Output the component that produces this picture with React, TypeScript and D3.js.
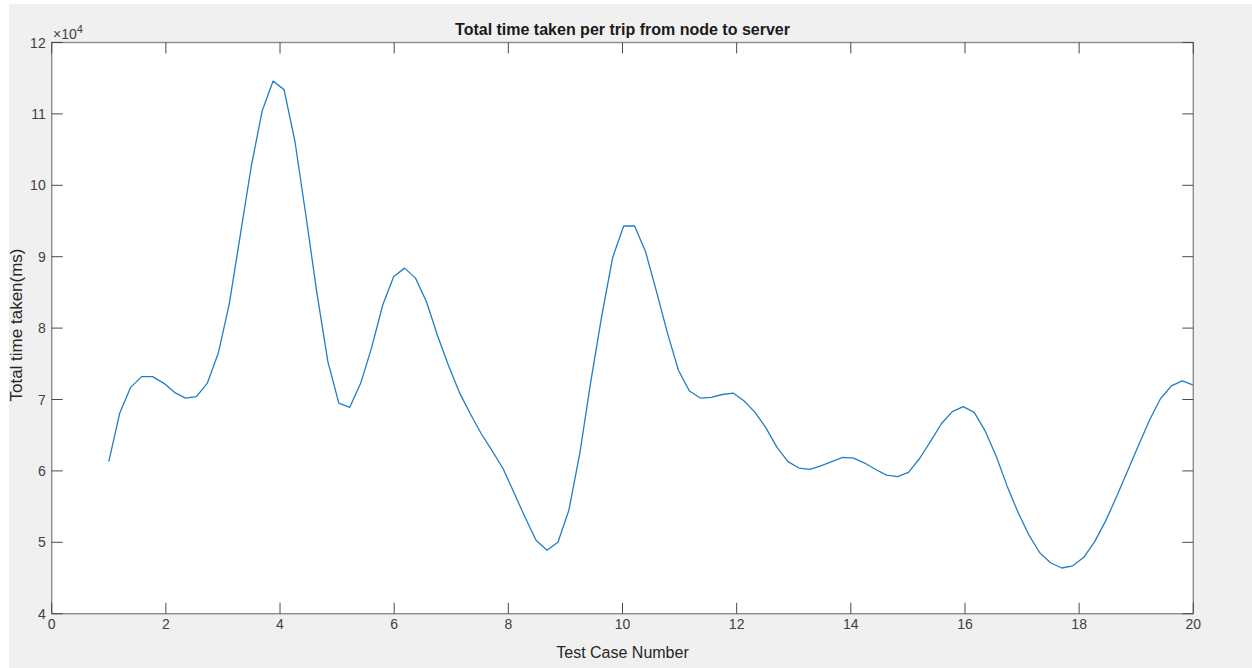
import React from "react";
import * as d3 from "d3";

// Total time per trip (ms), sampled on 100 evenly spaced test-case positions from 1 to 20
const tripTimes: number[] = [
  61300, 68100, 71700, 73200, 73200, 72300, 71000, 70200, 70400, 72300,
  76500, 83400, 93000, 102600, 110400, 114600, 113400, 106100, 95700, 84900,
  75300, 69500, 68900, 72300, 77300, 83200, 87200, 88400, 87000, 83700,
  79000, 74800, 71000, 68000, 65200, 62800, 60300, 56900, 53500, 50300,
  48900, 50000, 54500, 62500, 72500, 81700, 89900, 94300, 94300, 90700,
  85100, 79300, 74100, 71200, 70200, 70300, 70700, 70900, 69800, 68200,
  66000, 63300, 61300, 60400, 60200, 60700, 61300, 61900, 61800, 61100,
  60200, 59400, 59200, 59800, 61700, 64100, 66600, 68300, 69000, 68200,
  65600, 62100, 57900, 54200, 51000, 48500, 47100, 46400, 46700, 47900,
  50100, 53000, 56400, 60000, 63600, 67100, 70100, 71900, 72600, 72000,
];
const caseStart = 1;
const caseEnd = 20;

const xTicks: number[] = [0, 2, 4, 6, 8, 10, 12, 14, 16, 18, 20];
const yTicks: number[] = [40000, 50000, 60000, 70000, 80000, 90000, 100000, 110000, 120000];
const yExponent = 4;

const titleText = "Total time taken per trip from node to server";
const xLabelText = "Test Case Number";
const yLabelText = "Total time taken(ms)";

const W = 1252;
const H = 668;
const left = 51.7;
const right = 1193.3;
const top = 42.5;
const bottom = 613.7;
const tickLen = 11;
const font = "'Liberation Sans', Arial, Helvetica, sans-serif";

export default function App() {
  const x = d3.scaleLinear().domain([0, 20]).range([left, right]);
  const y = d3.scaleLinear().domain([40000, 120000]).range([bottom, top]);

  const n = tripTimes.length;
  const points: [number, number][] = tripTimes.map((v, i) => [
    caseStart + (i * (caseEnd - caseStart)) / (n - 1),
    v,
  ]);
  const line = d3
    .line<[number, number]>()
    .x((d) => x(d[0]))
    .y((d) => y(d[1]));

  const scale = Math.pow(10, yExponent);

  return (
    <svg
      width={W}
      height={H}
      style={{ position: "absolute", left: 0, top: 0, display: "block" }}
    >
      <rect x={0} y={0} width={W} height={H} fill="#ffffff" />
      <rect x={9} y={4} width={W - 9} height={H - 4} fill="#f0f0f0" />
      <rect x={left} y={top} width={right - left} height={bottom - top} fill="#ffffff" />

      {/* plotted series */}
      <path d={line(points) ?? ""} fill="none" stroke="#1f7fc4" strokeWidth={1.3} strokeLinejoin="round" />

      {/* box */}
      <rect
        x={left}
        y={top}
        width={right - left}
        height={bottom - top}
        fill="none"
        stroke="#8c8c8c"
        strokeWidth={1.4}
      />

      {/* x ticks, bottom and top */}
      {xTicks.map((t) => (
        <g key={"x" + t}>
          <line x1={x(t)} x2={x(t)} y1={bottom} y2={bottom - tickLen} stroke="#4a4a4a" strokeWidth={1} />
          <line x1={x(t)} x2={x(t)} y1={top} y2={top + tickLen} stroke="#4a4a4a" strokeWidth={1} />
          <text
            x={x(t)}
            y={bottom + 15}
            textAnchor="middle"
            fontFamily={font}
            fontSize={14}
            fill="#404040"
          >
            {t}
          </text>
        </g>
      ))}

      {/* y ticks, left and right */}
      {yTicks.map((t) => (
        <g key={"y" + t}>
          <line x1={left} x2={left + tickLen} y1={y(t)} y2={y(t)} stroke="#4a4a4a" strokeWidth={1} />
          <line x1={right} x2={right - tickLen} y1={y(t)} y2={y(t)} stroke="#4a4a4a" strokeWidth={1} />
          <text
            x={left - 6}
            y={y(t) + 5}
            textAnchor="end"
            fontFamily={font}
            fontSize={14}
            fill="#404040"
          >
            {t / scale}
          </text>
        </g>
      ))}

      {/* exponent marker */}
      <text x={53} y={38.5} fontFamily={font} fontSize={14} fill="#404040">
        ×10
        <tspan dy={-6} fontSize={11}>
          {yExponent}
        </tspan>
      </text>

      <text
        x={(left + right) / 2}
        y={34.5}
        textAnchor="middle"
        fontFamily={font}
        fontSize={16}
        fontWeight="bold"
        fill="#1a1a1a"
      >
        {titleText}
      </text>

      <text
        x={(left + right) / 2}
        y={658}
        textAnchor="middle"
        fontFamily={font}
        fontSize={16}
        fill="#262626"
      >
        {xLabelText}
      </text>

      <text
        transform={`translate(22, 325) rotate(-90)`}
        textAnchor="middle"
        fontFamily={font}
        fontSize={17}
        fill="#262626"
      >
        {yLabelText}
      </text>
    </svg>
  );
}
